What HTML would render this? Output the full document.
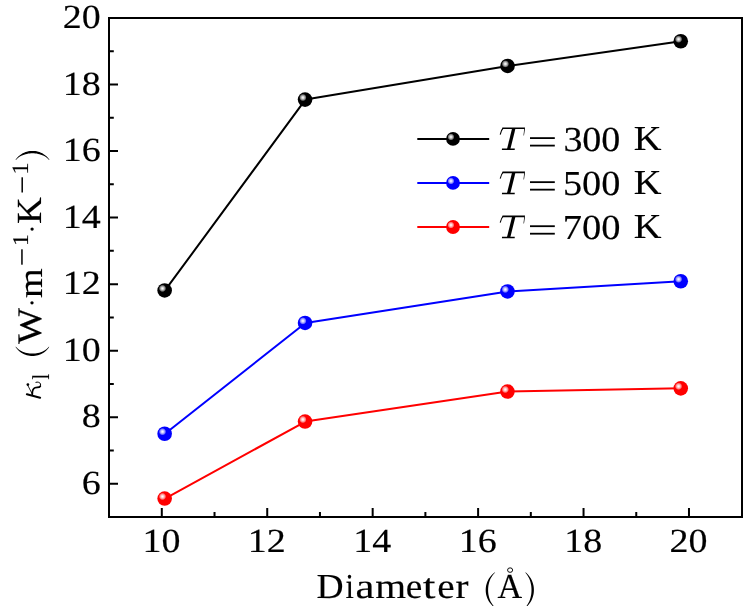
<!DOCTYPE html>
<html><head><meta charset="utf-8"><style>
html,body{margin:0;padding:0;background:#fff;overflow:hidden;}
svg{display:block;will-change:transform;}
text{font-family:"Liberation Serif",serif;text-rendering:geometricPrecision;fill:#000;stroke:#000;stroke-width:0.15px;}
</style></head><body>
<svg width="743" height="606" viewBox="0 0 743 606">
<defs>
<radialGradient id="hl" cx="0.5" cy="0.5" r="0.5">
<stop offset="0" stop-color="#fff" stop-opacity="1"/><stop offset="0.3" stop-color="#fff" stop-opacity="0.85"/><stop offset="0.7" stop-color="#fff" stop-opacity="0.5"/><stop offset="1" stop-color="#fff" stop-opacity="0"/></radialGradient>
</defs>
<rect width="743" height="606" fill="#fff"/>
<path d="M110 483.73H118 M110 417.20H118 M110 350.67H118 M110 284.13H118 M110 217.60H118 M110 151.07H118 M110 84.53H118 M110 18.00H118 M110 450.47H113.8 M110 383.93H113.8 M110 317.40H113.8 M110 250.87H113.8 M110 184.33H113.8 M110 117.80H113.8 M110 51.27H113.8 M161.80 516V508 M267.23 516V508 M372.67 516V508 M478.11 516V508 M583.54 516V508 M688.98 516V508 M214.52 516V512 M319.95 516V512 M425.39 516V512 M530.82 516V512 M636.26 516V512" stroke="#000" stroke-width="2" fill="none"/>
<rect x="109" y="18" width="633" height="499" fill="none" stroke="#000" stroke-width="2"/>
<path d="M165.00 290.45 L305.40 99.60 L507.90 65.95 L681.10 41.25" stroke="#000" stroke-width="2" fill="none" stroke-linejoin="round"/>
<circle cx="164.65" cy="290.45" r="7.30" fill="#000"/><circle cx="162.49" cy="288.39" r="3.73" fill="url(#hl)"/>
<circle cx="305.05" cy="99.60" r="7.30" fill="#000"/><circle cx="302.89" cy="97.54" r="3.73" fill="url(#hl)"/>
<circle cx="507.55" cy="65.95" r="7.30" fill="#000"/><circle cx="505.39" cy="63.89" r="3.73" fill="url(#hl)"/>
<circle cx="680.75" cy="41.25" r="7.30" fill="#000"/><circle cx="678.59" cy="39.19" r="3.73" fill="url(#hl)"/>
<path d="M165.00 433.75 L305.40 322.95 L507.80 291.45 L681.10 281.25" stroke="#00f" stroke-width="2" fill="none" stroke-linejoin="round"/>
<circle cx="164.65" cy="433.75" r="7.30" fill="#00f"/><circle cx="162.49" cy="431.69" r="3.73" fill="url(#hl)"/>
<circle cx="305.05" cy="322.95" r="7.30" fill="#00f"/><circle cx="302.89" cy="320.89" r="3.73" fill="url(#hl)"/>
<circle cx="507.45" cy="291.45" r="7.30" fill="#00f"/><circle cx="505.29" cy="289.39" r="3.73" fill="url(#hl)"/>
<circle cx="680.75" cy="281.25" r="7.30" fill="#00f"/><circle cx="678.59" cy="279.19" r="3.73" fill="url(#hl)"/>
<path d="M165.00 498.55 L305.40 421.55 L507.80 391.55 L681.10 388.35" stroke="#f00" stroke-width="2" fill="none" stroke-linejoin="round"/>
<circle cx="164.65" cy="498.55" r="7.30" fill="#f00"/><circle cx="162.49" cy="496.49" r="3.73" fill="url(#hl)"/>
<circle cx="305.05" cy="421.55" r="7.30" fill="#f00"/><circle cx="302.89" cy="419.49" r="3.73" fill="url(#hl)"/>
<circle cx="507.45" cy="391.55" r="7.30" fill="#f00"/><circle cx="505.29" cy="389.49" r="3.73" fill="url(#hl)"/>
<circle cx="680.75" cy="388.35" r="7.30" fill="#f00"/><circle cx="678.59" cy="386.29" r="3.73" fill="url(#hl)"/>
<path d="M417.3 138.90H489.2" stroke="#000" stroke-width="2"/>
<circle cx="453.00" cy="138.90" r="6.90" fill="#000"/><circle cx="450.95" cy="136.95" r="3.52" fill="url(#hl)"/>
<g transform="translate(0 0.00)"><path d="M502.6 127.5L525.0 127.5L524.8 129.1L502.3 129.1Z"/><path d="M512.0 128.8L515.4 128.8L510.4 148.9L507.0 148.9Z"/><path d="M502.0 148.6L514.8 148.6L514.7 150.1L501.9 150.1Z"/><path d="M503.2 128.0C501.6 129.5 500.9 131.8 500.2 134.6" fill="none" stroke="#000" stroke-width="1.1"/><path d="M524.2 128.6L525.0 128.6L524.0 135.4L523.5 135.4Z"/></g>
<rect x="530.0" y="137.20" width="24.8" height="1.8"/><rect x="530.0" y="144.70" width="24.8" height="1.8"/>
<text transform="translate(563.38 150.75) scale(1.0816 1)" font-size="35.11">300</text>
<text transform="translate(633.69 150.30) scale(1.0972 1)" font-size="34.96">K</text>
<path d="M417.3 182.95H489.2" stroke="#00f" stroke-width="2"/>
<circle cx="453.00" cy="182.95" r="6.90" fill="#00f"/><circle cx="450.95" cy="181.00" r="3.52" fill="url(#hl)"/>
<g transform="translate(0 44.05)"><path d="M502.6 127.5L525.0 127.5L524.8 129.1L502.3 129.1Z"/><path d="M512.0 128.8L515.4 128.8L510.4 148.9L507.0 148.9Z"/><path d="M502.0 148.6L514.8 148.6L514.7 150.1L501.9 150.1Z"/><path d="M503.2 128.0C501.6 129.5 500.9 131.8 500.2 134.6" fill="none" stroke="#000" stroke-width="1.1"/><path d="M524.2 128.6L525.0 128.6L524.0 135.4L523.5 135.4Z"/></g>
<rect x="530.0" y="181.25" width="24.8" height="1.8"/><rect x="530.0" y="188.75" width="24.8" height="1.8"/>
<text transform="translate(562.98 194.80) scale(1.0893 1)" font-size="35.11">500</text>
<text transform="translate(633.69 194.35) scale(1.0972 1)" font-size="34.96">K</text>
<path d="M417.3 227.00H489.2" stroke="#f00" stroke-width="2"/>
<circle cx="453.00" cy="227.00" r="6.90" fill="#f00"/><circle cx="450.95" cy="225.05" r="3.52" fill="url(#hl)"/>
<g transform="translate(0 88.10)"><path d="M502.6 127.5L525.0 127.5L524.8 129.1L502.3 129.1Z"/><path d="M512.0 128.8L515.4 128.8L510.4 148.9L507.0 148.9Z"/><path d="M502.0 148.6L514.8 148.6L514.7 150.1L501.9 150.1Z"/><path d="M503.2 128.0C501.6 129.5 500.9 131.8 500.2 134.6" fill="none" stroke="#000" stroke-width="1.1"/><path d="M524.2 128.6L525.0 128.6L524.0 135.4L523.5 135.4Z"/></g>
<rect x="530.0" y="225.30" width="24.8" height="1.8"/><rect x="530.0" y="232.80" width="24.8" height="1.8"/>
<text transform="translate(562.66 238.85) scale(1.0956 1)" font-size="35.11">700</text>
<text transform="translate(633.69 238.40) scale(1.0972 1)" font-size="34.96">K</text>
<text transform="translate(100.65 493.73) scale(1.1243 1)" font-size="33.8" text-anchor="end">6</text>
<text transform="translate(100.65 427.20) scale(1.1243 1)" font-size="33.8" text-anchor="end">8</text>
<text transform="translate(100.65 360.67) scale(1.1243 1)" font-size="33.8" text-anchor="end">10</text>
<text transform="translate(100.65 294.13) scale(1.1243 1)" font-size="33.8" text-anchor="end">12</text>
<text transform="translate(100.65 227.60) scale(1.1243 1)" font-size="33.8" text-anchor="end">14</text>
<text transform="translate(100.65 161.07) scale(1.1243 1)" font-size="33.8" text-anchor="end">16</text>
<text transform="translate(100.65 94.53) scale(1.1243 1)" font-size="33.8" text-anchor="end">18</text>
<text transform="translate(100.65 28.00) scale(1.1243 1)" font-size="33.8" text-anchor="end">20</text>
<text transform="translate(161.40 551.7) scale(1.1243 1)" font-size="33.8" text-anchor="middle">10</text>
<text transform="translate(266.83 551.7) scale(1.1243 1)" font-size="33.8" text-anchor="middle">12</text>
<text transform="translate(372.27 551.7) scale(1.1243 1)" font-size="33.8" text-anchor="middle">14</text>
<text transform="translate(477.71 551.7) scale(1.1243 1)" font-size="33.8" text-anchor="middle">16</text>
<text transform="translate(583.14 551.7) scale(1.1243 1)" font-size="33.8" text-anchor="middle">18</text>
<text transform="translate(688.58 551.7) scale(1.1243 1)" font-size="33.8" text-anchor="middle">20</text>
<text transform="translate(316.41 597.80) scale(1.0659 1)" font-size="35.20">D</text><text transform="translate(345.56 597.80) scale(0.8594 1)" font-size="35.20">i</text><text transform="translate(355.60 597.80) scale(1.2155 1)" font-size="35.20">a</text><text transform="translate(375.27 597.80) scale(1.1272 1)" font-size="35.20">m</text><text transform="translate(405.65 597.80) scale(1.0596 1)" font-size="35.20">e</text><text transform="translate(422.64 597.80) scale(1.3012 1)" font-size="35.20">t</text><text transform="translate(437.17 597.80) scale(1.1133 1)" font-size="35.20">e</text><text transform="translate(455.42 597.80) scale(1.1121 1)" font-size="35.20">r</text><text transform="translate(497.56 597.80) scale(0.9711 1)" font-size="35.20">A</text>
<ellipse cx="510.1" cy="570.1" rx="2.55" ry="2.25" fill="none" stroke="#000" stroke-width="0.95"/>
<path d="M494.50 572.50 L492.74 573.96 L491.30 575.42 L490.09 576.88 L489.08 578.33 L488.24 579.79 L487.53 581.25 L486.96 582.71 L486.49 584.17 L486.14 585.62 L485.90 587.08 L485.75 588.54 L485.70 590.00 L485.75 591.46 L485.90 592.92 L486.14 594.38 L486.49 595.83 L486.96 597.29 L487.53 598.75 L488.24 600.21 L489.08 601.67 L490.09 603.12 L491.30 604.58 L492.74 606.04 L494.50 607.50 L495.20 607.50 L493.71 606.04 L492.52 604.58 L491.54 603.12 L490.73 601.67 L490.06 600.21 L489.51 598.75 L489.06 597.29 L488.71 595.83 L488.44 594.38 L488.25 592.92 L488.14 591.46 L488.10 590.00 L488.14 588.54 L488.25 587.08 L488.44 585.62 L488.71 584.17 L489.06 582.71 L489.51 581.25 L490.06 579.79 L490.73 578.33 L491.54 576.88 L492.52 575.42 L493.71 573.96 L495.20 572.50Z"/><path d="M525.90 572.50 L527.44 573.96 L528.73 575.42 L529.82 576.88 L530.74 578.33 L531.53 579.79 L532.18 581.25 L532.72 582.71 L533.15 584.17 L533.48 585.62 L533.72 587.08 L533.85 588.54 L533.90 590.00 L533.85 591.46 L533.72 592.92 L533.48 594.38 L533.15 595.83 L532.72 597.29 L532.18 598.75 L531.53 600.21 L530.74 601.67 L529.82 603.12 L528.73 604.58 L527.44 606.04 L525.90 607.50 L525.20 607.50 L526.47 606.04 L527.51 604.58 L528.37 603.12 L529.10 601.67 L529.71 600.21 L530.21 598.75 L530.62 597.29 L530.94 595.83 L531.19 594.38 L531.36 592.92 L531.47 591.46 L531.50 590.00 L531.47 588.54 L531.36 587.08 L531.19 585.62 L530.94 584.17 L530.62 582.71 L530.21 581.25 L529.71 579.79 L529.10 578.33 L528.37 576.88 L527.51 575.42 L526.47 573.96 L525.20 572.50Z"/>
<g transform="rotate(-90)">
<text transform="translate(-379.51 48.90) scale(0.8505 1)" font-size="24.21">l</text>
<text transform="translate(-344.04 40.78) scale(1.1096 1)" font-size="34.48">W</text>
<text transform="translate(-298.00 41.50) scale(1.1104 1)" font-size="34.39">m</text>
<text transform="translate(-246.10 27.80) scale(1.0642 1)" font-size="22.42">1</text>
<text transform="translate(-224.07 41.00) scale(1.0503 1)" font-size="35.27">K</text>
<text transform="translate(-174.86 28.00) scale(1.0464 1)" font-size="23.48">1</text>
</g>
<path d="M15.70 347.20 L17.09 349.00 L18.48 350.46 L19.88 351.66 L21.27 352.66 L22.66 353.50 L24.05 354.20 L25.44 354.77 L26.83 355.22 L28.23 355.56 L29.62 355.81 L31.01 355.95 L32.40 356.00 L33.79 355.95 L35.18 355.81 L36.58 355.56 L37.97 355.22 L39.36 354.77 L40.75 354.20 L42.14 353.50 L43.53 352.66 L44.93 351.66 L46.32 350.46 L47.71 349.00 L49.10 347.20 L49.10 346.50 L47.71 348.03 L46.32 349.24 L44.93 350.22 L43.53 351.02 L42.14 351.68 L40.75 352.22 L39.36 352.66 L37.97 353.01 L36.58 353.27 L35.18 353.45 L33.79 353.56 L32.40 353.60 L31.01 353.56 L29.62 353.45 L28.23 353.27 L26.83 353.01 L25.44 352.66 L24.05 352.22 L22.66 351.68 L21.27 351.02 L19.88 350.22 L18.48 349.24 L17.09 348.03 L15.70 346.50Z"/><path d="M15.70 159.50 L17.10 157.76 L18.50 156.35 L19.90 155.17 L21.30 154.19 L22.70 153.37 L24.10 152.68 L25.50 152.12 L26.90 151.67 L28.30 151.33 L29.70 151.09 L31.10 150.95 L32.50 150.90 L33.90 150.95 L35.30 151.09 L36.70 151.33 L38.10 151.67 L39.50 152.12 L40.90 152.68 L42.30 153.37 L43.70 154.19 L45.10 155.17 L46.50 156.35 L47.90 157.76 L49.30 159.50 L49.30 160.20 L47.90 158.73 L46.50 157.57 L45.10 156.62 L43.70 155.83 L42.30 155.19 L40.90 154.66 L39.50 154.22 L38.10 153.88 L36.70 153.62 L35.30 153.44 L33.90 153.34 L32.50 153.30 L31.10 153.34 L29.70 153.44 L28.30 153.62 L26.90 153.88 L25.50 154.22 L24.10 154.66 L22.70 155.19 L21.30 155.83 L19.90 156.62 L18.50 157.57 L17.10 158.73 L15.70 160.20Z"/>
<g fill="none" stroke="#000" stroke-linecap="round"><path d="M26.9 394.3L40.1 397.7" stroke-width="2.1"/><path d="M27.8 385.4L32.2 393.9" stroke-width="0.85"/><path d="M32.3 394.4C32.2 391.5 32.6 388.6 35.0 387.7C37.0 387.0 39.2 388.0 40.3 386.2" stroke-width="1.75"/><path d="M40.3 386.2C41.2 384.6 40.5 382.8 38.6 382.3C37.6 382.0 36.7 382.0 35.9 382.3" stroke-width="1.0"/></g><circle cx="27.9" cy="384.6" r="1.35"/>
<circle cx="32.0" cy="302.8" r="1.65"/><circle cx="32.1" cy="229.1" r="1.65"/>
<rect x="21.2" y="249.3" width="1.5" height="15.4"/><rect x="21.45" y="177.3" width="1.5" height="15.2"/>
</svg>
</body></html>
